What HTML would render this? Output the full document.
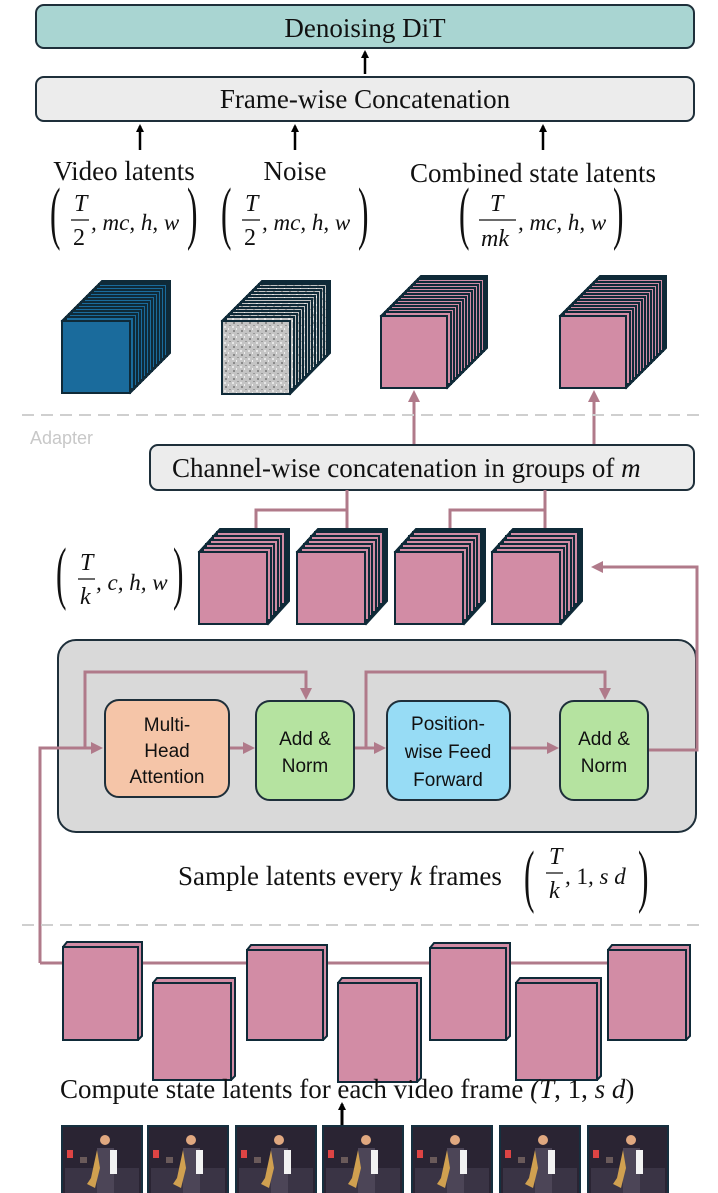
<!DOCTYPE html>
<html><head><meta charset="utf-8"><style>
html,body{margin:0;padding:0;background:#fff}
svg{display:block}
.s{font-family:"Liberation Serif",serif;fill:#111}
.m{font-family:"Liberation Serif",serif;font-style:italic;fill:#111}
.b{font-family:"Liberation Sans",sans-serif;fill:#111;font-size:19px}
</style></head><body>
<svg width="718" height="1193" viewBox="0 0 718 1193" xmlns="http://www.w3.org/2000/svg">
<defs>
<marker id="ab" markerWidth="8" markerHeight="8" refX="6" refY="4" orient="auto" markerUnits="userSpaceOnUse"><path d="M0,0 L8,4 L0,8z" fill="#000"/></marker>
<marker id="ap" markerWidth="12" markerHeight="12" refX="9" refY="6" orient="auto" markerUnits="userSpaceOnUse"><path d="M0,0 L12,6 L0,12z" fill="#b07a8a"/></marker>
<pattern id="noise" width="8" height="8" patternUnits="userSpaceOnUse"><rect width="8" height="8" fill="#c4c4c4"/><rect x="1" y="2" width="2" height="2" fill="#8a8a8a"/><rect x="5" y="5" width="2" height="1" fill="#999"/><rect x="4" y="0" width="1" height="2" fill="#eee"/><rect x="0" y="6" width="2" height="2" fill="#e6e6e6"/></pattern>
</defs>

<rect x="36" y="5" width="658" height="43" rx="8" fill="#a9d5d2" stroke="#1e2f3a" stroke-width="2"/>
<text x="365" y="37" text-anchor="middle" class="s" font-size="27">Denoising DiT</text>
<line x1="365" y1="74" x2="365" y2="52" stroke="#000" stroke-width="2.5" marker-end="url(#ab)"/>
<rect x="36" y="77" width="658" height="44" rx="8" fill="#ececec" stroke="#1e2f3a" stroke-width="2"/>
<text x="365" y="108" text-anchor="middle" class="s" font-size="27">Frame-wise Concatenation</text>
<line x1="140" y1="150" x2="140" y2="126" stroke="#000" stroke-width="2.5" marker-end="url(#ab)"/>
<line x1="295" y1="150" x2="295" y2="126" stroke="#000" stroke-width="2.5" marker-end="url(#ab)"/>
<line x1="543" y1="150" x2="543" y2="126" stroke="#000" stroke-width="2.5" marker-end="url(#ab)"/>

<text x="124" y="180" text-anchor="middle" class="s" font-size="27">Video latents</text>
<text x="295" y="180" text-anchor="middle" class="s" font-size="27">Noise</text>
<text x="533" y="182" text-anchor="middle" class="s" font-size="27">Combined state latents</text>

<!-- math labels -->
<text transform="translate(50,236) scale(0.45,1)" class="s" font-size="70">(</text>
<text x="74" y="211" class="m" font-size="24">T</text><line x1="71" y1="220" x2="89" y2="220" stroke="#111" stroke-width="1.3"/><text x="73" y="245" class="s" font-size="24">2</text>
<text x="91" y="230" class="m" font-size="23">, mc, h, w</text>
<text transform="translate(187,236) scale(0.45,1)" class="s" font-size="70">)</text>

<text transform="translate(221,236) scale(0.45,1)" class="s" font-size="70">(</text>
<text x="245" y="211" class="m" font-size="24">T</text><line x1="242" y1="220" x2="260" y2="220" stroke="#111" stroke-width="1.3"/><text x="244" y="245" class="s" font-size="24">2</text>
<text x="262" y="230" class="m" font-size="23">, mc, h, w</text>
<text transform="translate(358,236) scale(0.45,1)" class="s" font-size="70">)</text>

<text transform="translate(459,236) scale(0.45,1)" class="s" font-size="70">(</text>
<text x="490" y="211" class="m" font-size="24">T</text><line x1="479" y1="220" x2="516" y2="220" stroke="#111" stroke-width="1.3"/><text x="481" y="246" class="m" font-size="24">mk</text>
<text x="518" y="230" class="m" font-size="23">, mc, h, w</text>
<text transform="translate(613,236) scale(0.45,1)" class="s" font-size="70">)</text>

<!-- big cubes -->
<g stroke="#0f2a38" stroke-width="2">
<g>
<path d="M62,321 L102,281 L170,281 L170,353 L130,393 Z" fill="#0f2a38"/>
<rect x="99" y="284" width="68" height="72" fill="#1a6b9c"/><rect x="96" y="287" width="68" height="72" fill="#1a6b9c"/><rect x="93" y="290" width="68" height="72" fill="#1a6b9c"/><rect x="90" y="293" width="68" height="72" fill="#1a6b9c"/><rect x="87" y="296" width="68" height="72" fill="#1a6b9c"/><rect x="84" y="299" width="68" height="72" fill="#1a6b9c"/><rect x="81" y="302" width="68" height="72" fill="#1a6b9c"/><rect x="78" y="305" width="68" height="72" fill="#1a6b9c"/><rect x="75" y="308" width="68" height="72" fill="#1a6b9c"/><rect x="72" y="311" width="68" height="72" fill="#1a6b9c"/><rect x="69" y="314" width="68" height="72" fill="#1a6b9c"/><rect x="66" y="317" width="68" height="72" fill="#1a6b9c"/>
<rect x="62" y="321" width="68" height="72" fill="#1a6b9c"/>
</g>
<g>
<path d="M222,321 L262,281 L330,281 L330,353 L290,394 Z" fill="#0f2a38"/>
<rect x="259" y="284" width="68" height="72" fill="url(#noise)"/><rect x="256" y="287" width="68" height="72" fill="url(#noise)"/><rect x="253" y="290" width="68" height="72" fill="url(#noise)"/><rect x="250" y="293" width="68" height="72" fill="url(#noise)"/><rect x="247" y="296" width="68" height="72" fill="url(#noise)"/><rect x="244" y="299" width="68" height="72" fill="url(#noise)"/><rect x="241" y="302" width="68" height="72" fill="url(#noise)"/><rect x="238" y="305" width="68" height="72" fill="url(#noise)"/><rect x="235" y="308" width="68" height="72" fill="url(#noise)"/><rect x="232" y="311" width="68" height="72" fill="url(#noise)"/><rect x="229" y="314" width="68" height="72" fill="url(#noise)"/><rect x="226" y="317" width="68" height="72" fill="url(#noise)"/>
<rect x="222" y="321" width="68" height="73" fill="url(#noise)"/>
</g>
<g id="pc">
<path d="M381,316 L421,276 L487,276 L487,348 L447,388 Z" fill="#0f2a38"/>
<rect x="418" y="279" width="66" height="72" fill="#d28ca5"/><rect x="415" y="282" width="66" height="72" fill="#d28ca5"/><rect x="412" y="285" width="66" height="72" fill="#d28ca5"/><rect x="409" y="288" width="66" height="72" fill="#d28ca5"/><rect x="406" y="291" width="66" height="72" fill="#d28ca5"/><rect x="403" y="294" width="66" height="72" fill="#d28ca5"/><rect x="400" y="297" width="66" height="72" fill="#d28ca5"/><rect x="397" y="300" width="66" height="72" fill="#d28ca5"/><rect x="394" y="303" width="66" height="72" fill="#d28ca5"/><rect x="391" y="306" width="66" height="72" fill="#d28ca5"/><rect x="388" y="309" width="66" height="72" fill="#d28ca5"/><rect x="385" y="312" width="66" height="72" fill="#d28ca5"/>
<rect x="381" y="316" width="66" height="72" fill="#d28ca5"/>
</g>
<use href="#pc" x="179"/>
</g>

<line x1="414" y1="445" x2="414" y2="393" stroke="#b07a8a" stroke-width="3" marker-end="url(#ap)"/>
<line x1="594" y1="445" x2="594" y2="393" stroke="#b07a8a" stroke-width="3" marker-end="url(#ap)"/>

<line x1="22" y1="415" x2="706" y2="415" stroke="#cfcfcf" stroke-width="2" stroke-dasharray="12,7"/>
<text x="30" y="444" font-family="Liberation Sans,sans-serif" font-size="18" fill="#c8c8c8">Adapter</text>

<rect x="150" y="445" width="544" height="45" rx="8" fill="#ececec" stroke="#1e2f3a" stroke-width="2"/>
<text x="172" y="477" class="s" font-size="27">Channel-wise concatenation in groups of <tspan font-style="italic">m</tspan></text>

<g stroke="#b07a8a" stroke-width="3" fill="none">
<path d="M347,490 V510 M256,530 V510 H347 V530"/>
<path d="M545,490 V510 M450,530 V510 H545 V530"/>
</g>

<!-- middle cubes -->
<g stroke="#0f2a38" stroke-width="2">
<g id="m1">
<path d="M199,552 L220,529 L289,529 L289,601 L268,624 Z" fill="#0f2a38"/>
<rect x="217" y="532" width="68" height="72" fill="#d28ca5"/><rect x="213" y="536" width="68" height="72" fill="#d28ca5"/><rect x="210" y="540" width="68" height="72" fill="#d28ca5"/><rect x="206" y="544" width="68" height="72" fill="#d28ca5"/><rect x="203" y="548" width="68" height="72" fill="#d28ca5"/>
<rect x="199" y="552" width="68" height="72" fill="#d28ca5"/>
</g>
<use href="#m1" x="98"/>
<use href="#m1" x="196"/>
<use href="#m1" x="293"/>
</g>

<text transform="translate(56,596) scale(0.45,1)" class="s" font-size="70">(</text>
<text x="80" y="570" class="m" font-size="24">T</text><line x1="78" y1="579" x2="95" y2="579" stroke="#111" stroke-width="1.3"/><text x="80" y="604" class="m" font-size="24">k</text>
<text x="96" y="590" class="m" font-size="23">, c, h, w</text>
<text transform="translate(173,596) scale(0.45,1)" class="s" font-size="70">)</text>

<rect x="58" y="640" width="638" height="192" rx="18" fill="#d9d9d9" stroke="#1e2f3a" stroke-width="2"/>

<g stroke="#b07a8a" stroke-width="3" fill="none">
<path d="M40,963 V748 H100" marker-end="url(#ap)"/>
<path d="M85,748 V672 H306 V697" marker-end="url(#ap)"/>
<path d="M229,748 H252" marker-end="url(#ap)"/>
<path d="M354,748 H383" marker-end="url(#ap)"/>
<path d="M366,748 V672 H605 V697" marker-end="url(#ap)"/>
<path d="M510,748 H556" marker-end="url(#ap)"/>
<path d="M648,750 H697 V567 H594" marker-end="url(#ap)"/>
<path d="M40,963 H610"/>
</g>

<rect x="105" y="700" width="124" height="97" rx="14" fill="#f5c5a8" stroke="#1e2f3a" stroke-width="2"/>
<text x="167" y="731" text-anchor="middle" class="b">Multi-</text>
<text x="167" y="757" text-anchor="middle" class="b">Head</text>
<text x="167" y="783" text-anchor="middle" class="b">Attention</text>
<rect x="256" y="701" width="98" height="99" rx="14" fill="#b5e3a0" stroke="#1e2f3a" stroke-width="2"/>
<text x="305" y="745" text-anchor="middle" class="b">Add &amp;</text>
<text x="305" y="772" text-anchor="middle" class="b">Norm</text>
<rect x="387" y="701" width="123" height="99" rx="14" fill="#97dcf5" stroke="#1e2f3a" stroke-width="2"/>
<text x="448" y="730" text-anchor="middle" class="b" font-size="21">Position-</text>
<text x="448" y="758" text-anchor="middle" class="b" font-size="21">wise Feed</text>
<text x="448" y="786" text-anchor="middle" class="b" font-size="21">Forward</text>
<rect x="560" y="701" width="88" height="99" rx="14" fill="#b5e3a0" stroke="#1e2f3a" stroke-width="2"/>
<text x="604" y="745" text-anchor="middle" class="b">Add &amp;</text>
<text x="604" y="772" text-anchor="middle" class="b">Norm</text>

<text x="178" y="885" class="s" font-size="27">Sample latents every <tspan font-style="italic">k</tspan> frames</text>
<text transform="translate(524,899) scale(0.45,1)" class="s" font-size="70">(</text>
<text x="549" y="864" class="m" font-size="24">T</text><line x1="546" y1="873" x2="563" y2="873" stroke="#111" stroke-width="1.3"/><text x="549" y="898" class="m" font-size="24">k</text>
<text x="565" y="884" class="m" font-size="23">, <tspan font-style="normal">1</tspan>, s d</text>
<text transform="translate(638,899) scale(0.45,1)" class="s" font-size="70">)</text>

<line x1="22" y1="925" x2="706" y2="925" stroke="#cfcfcf" stroke-width="2" stroke-dasharray="12,7"/>

<g stroke="#0f2a38" stroke-width="2" fill="#d28ca5">
<path d="M63,947 L67,942 L142,942 L142,1036 L138,1040"/><rect x="63" y="947" width="75" height="93"/>
<path d="M153,983 L157,978 L235,978 L235,1076 L231,1080"/><rect x="153" y="983" width="78" height="97"/>
<path d="M247,950 L251,945 L327,945 L327,1036 L323,1040"/><rect x="247" y="950" width="76" height="90"/>
<path d="M338,983 L342,978 L421,978 L421,1078 L417,1082"/><rect x="338" y="983" width="79" height="99"/>
<path d="M430,948 L434,943 L510,943 L510,1036 L506,1040"/><rect x="430" y="948" width="76" height="92"/>
<path d="M516,983 L520,978 L601,978 L601,1076 L597,1080"/><rect x="516" y="983" width="81" height="97"/>
<path d="M608,950 L612,945 L690,945 L690,1036 L686,1040"/><rect x="608" y="950" width="78" height="90"/>
</g>

<text x="60" y="1098" class="s" font-size="27">Compute state latents for each video frame <tspan font-style="italic">(T</tspan>, 1, <tspan font-style="italic">s d</tspan>)</text>
<line x1="342" y1="1128" x2="342" y2="1104" stroke="#000" stroke-width="3" marker-end="url(#ab)"/>

<g id="f1">
<rect x="62" y="1126" width="80" height="70" fill="#2a2433" stroke="#16303f" stroke-width="2"/>
<rect x="65" y="1168" width="74" height="25" fill="#3a3445"/>
<rect x="67" y="1150" width="6" height="8" fill="#d44"/>
<rect x="80" y="1157" width="7" height="6" fill="#6a5a5a"/>
<circle cx="105" cy="1140" r="5" fill="#e0a880"/>
<path d="M97,1148 h17 v47 h-17z" fill="#4c4557"/>
<rect x="110" y="1150" width="7" height="24" fill="#f2f2f2"/>
<path d="M97,1150 l-6,28 l-4,6 l8,4 l5,-20z" fill="#d0a050"/>
</g>
<use href="#f1" x="86"/>
<use href="#f1" x="174"/>
<use href="#f1" x="261"/>
<use href="#f1" x="350"/>
<use href="#f1" x="438"/>
<use href="#f1" x="526"/>
</svg>
</body></html>
